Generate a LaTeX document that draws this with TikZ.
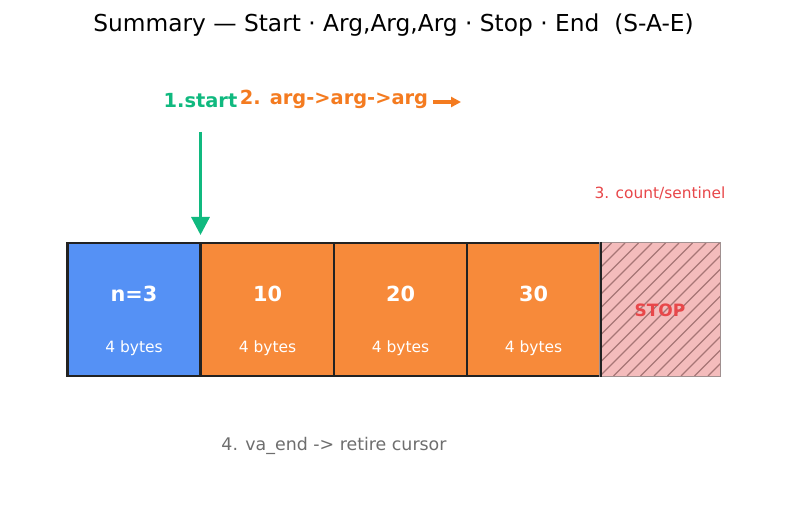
\documentclass[tikz,border=0pt]{standalone}
\usepackage{fontspec}
\setmainfont{DejaVu Sans}
\usetikzlibrary{arrows.meta}
\definecolor{cblue}{HTML}{5591F5}
\definecolor{corange}{HTML}{F78A3A}
\definecolor{cgreen}{HTML}{10B97F}
\definecolor{ctxtorange}{HTML}{F47B20}
\definecolor{cred}{HTML}{E8474A}
\definecolor{cpink}{HTML}{F4BCBC}
\definecolor{chatch}{HTML}{9A6A6A}
\definecolor{cgrayb}{HTML}{A09090}
\definecolor{cgraytxt}{HTML}{6E6E6E}
\definecolor{cdark}{HTML}{222222}
\begin{document}
\begin{tikzpicture}[x=1pt,y=-1pt,
  cell/.style={draw=cdark,line width=2.2pt,minimum width=133pt,minimum height=133pt,inner sep=0pt,anchor=center},
  valtxt/.style={text=white,font=\bfseries\fontsize{20.8}{24}\selectfont,inner sep=0pt},
  bytxt/.style={text=white,font=\fontsize{15.5}{18}\selectfont,inner sep=0pt},
  hatchline/.style={draw=chatch,line width=1.1pt,opacity=0.85},
  bigarrow/.style={line width=3.2pt,-{Triangle[length=18pt,width=18pt]}},
  smallarrow/.style={line width=3.2pt,-{Triangle[length=10pt,width=10pt]}}]
\useasboundingbox (0,0) rectangle (787,510);
\fill[white] (0,0) rectangle (787,510);
% title
\node[font=\fontsize{23.3}{27}\selectfont,text=black,inner sep=0pt] (title) at (393.5,25) {Summary — Start · Arg,Arg,Arg · Stop · End\ \ (S-A-E)};
% cells
\node[cell,fill=cblue] (c0) at (134,309.5) {};
\node[cell,fill=corange] (c1) at (267.5,309.5) {};
\node[cell,fill=corange] (c2) at (400.5,309.5) {};
\node[cell,fill=corange] (c3) at (533.5,309.5) {};
\node[draw=none,fill=cpink,minimum width=120pt,minimum height=133pt,inner sep=0pt] (stop) at (660,309.5) {};
\begin{scope}
\clip (600,243) rectangle (720,376);
\foreach \i in {-135,-121.5,...,135}
  \draw[hatchline] (600+\i,376) -- ++(133,-133);
\end{scope}
\draw[draw=cgrayb,line width=1.2pt] (stop.north west) rectangle (stop.south east);
\draw[draw=cdark,line width=2.2pt] (c3.north east) -- (c3.south east);
% cell labels
\node[valtxt] (v0) at (134,294) {n=3};
\node[valtxt] (v1) at (267.5,294) {10};
\node[valtxt] (v2) at (400.5,294) {20};
\node[valtxt] (v3) at (533.5,294) {30};
\node[bytxt] (b0) at (134,348.5) {4 bytes};
\node[bytxt] (b1) at (267.5,348.5) {4 bytes};
\node[bytxt] (b2) at (400.5,348.5) {4 bytes};
\node[bytxt] (b3) at (533.5,348.5) {4 bytes};
\node[text=cred,font=\bfseries\fontsize{17}{20}\selectfont,inner sep=0pt] (stoptxt) at (660,310) {STOP};
% annotations
\node[text=cgreen,font=\bfseries\fontsize{19.4}{22}\selectfont,inner sep=0pt] (start) at (200.5,101) {1.start};
\node[text=ctxtorange,font=\bfseries\fontsize{19.4}{22}\selectfont,inner sep=0pt] (args) at (334,99) {2. arg->arg->arg};
\node[text=cred,font=\fontsize{15.4}{18}\selectfont,inner sep=0pt] (count) at (660,193) {3. count/sentinel};
\node[text=cgraytxt,font=\fontsize{17.4}{20}\selectfont,inner sep=0pt] (vaend) at (334,446) {4. va\_end -> retire cursor};
% arrows
\coordinate (gs) at (200.5,132);
\coordinate (ge) at (200.5,235);
\draw[bigarrow,cgreen] (gs) -- (ge);
\coordinate (os) at (433,102);
\coordinate (oe) at (461,102);
\draw[smallarrow,ctxtorange] (os) -- (oe);
\end{tikzpicture}
\end{document}
